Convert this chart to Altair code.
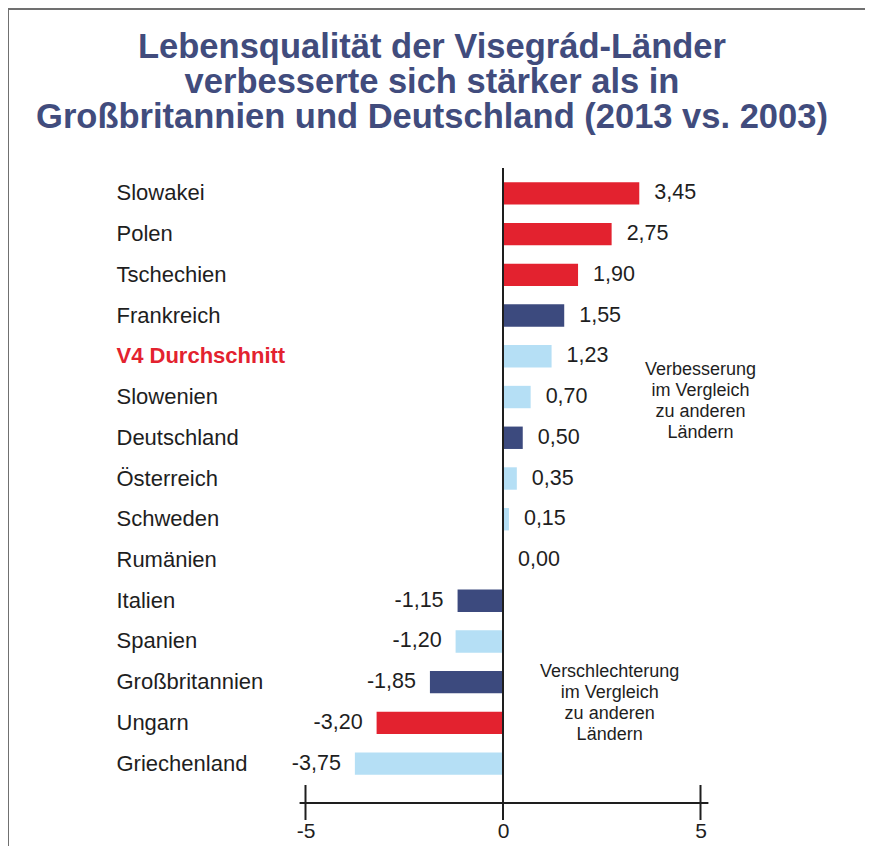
import altair as alt
import pandas as pd

# ---- data -------------------------------------------------------------
countries = ["Slowakei", "Polen", "Tschechien", "Frankreich", "V4 Durchschnitt",
             "Slowenien", "Deutschland", "Österreich", "Schweden", "Rumänien",
             "Italien", "Spanien", "Großbritannien", "Ungarn", "Griechenland"]
values = [3.45, 2.75, 1.90, 1.55, 1.23, 0.70, 0.50, 0.35, 0.15, 0.00,
          -1.15, -1.20, -1.85, -3.20, -3.75]
groups = ["V4", "V4", "V4", "Westeuropa", "Sonstige",
          "Sonstige", "Westeuropa", "Sonstige", "Sonstige", "Sonstige",
          "Westeuropa", "Sonstige", "Westeuropa", "V4", "Sonstige"]
group_domain = ["V4", "Westeuropa", "Sonstige"]
group_colors = ["#e3222f", "#3c4a7e", "#b5dff5"]
tick_values = [-5, 0, 5]

title_text = ("Lebensqualität der Visegrád-Länder\n"
              "verbesserte sich stärker als in\n"
              "Großbritannien und Deutschland (2013 vs. 2003)")
note_up = "Verbesserung\nim Vergleich\nzu anderen\nLändern"
note_down = "Verschlechterung\nim Vergleich\nzu anderen\nLändern"

labels = [f"{v:.2f}".replace(".", ",") for v in values]

df = pd.DataFrame({"land": countries, "wert": values, "gruppe": groups, "label": labels})

FONT = "Liberation Sans"
TXT = "#1e1e1e"

xscale = alt.Scale(domain=[-10, 8], nice=False, zero=False)
x_enc = alt.X("wert:Q", scale=xscale,
              axis=alt.Axis(values=tick_values, grid=False, domain=False, ticks=False,
                            orient="bottom", offset=36, labelPadding=0,
                            labelFontSize=21, labelFont=FONT, labelColor=TXT,
                            labelExpr="toString(datum.value)", title=None))
y_enc = alt.Y("land:N", sort=countries,
              scale=alt.Scale(paddingInner=0, paddingOuter=0),
              axis=alt.Axis(orient="left", labelAlign="left", labelPadding=-8,
                            ticks=False, tickSize=0, domain=False, grid=False,
                            labelFontSize=22, labelFont=FONT,
                            labelColor={"condition": {"test": "datum.value === 'V4 Durchschnitt'",
                                                      "value": "#e3222f"},
                                        "value": TXT},
                            labelFontWeight={"condition": {"test": "datum.value === 'V4 Durchschnitt'",
                                                           "value": "bold"},
                                             "value": "normal"},
                            title=None))

base = alt.Chart(df)

bars = base.mark_bar(height={"band": 0.55}).encode(
    x=x_enc,
    y=y_enc,
    color=alt.Color("gruppe:N", scale=alt.Scale(domain=group_domain, range=group_colors), legend=None),
)

pos_text = base.transform_filter("datum.wert >= 0").mark_text(
    align="left", baseline="middle", dx=15, fontSize=21.5, font=FONT, color=TXT
).encode(x=alt.X("wert:Q", scale=xscale), y=alt.Y("land:N", sort=countries), text="label:N")

neg_text = base.transform_filter("datum.wert < 0").mark_text(
    align="right", baseline="middle", dx=-14, fontSize=21.5, font=FONT, color=TXT
).encode(x=alt.X("wert:Q", scale=xscale), y=alt.Y("land:N", sort=countries), text="label:N")

zero_line = alt.Chart(pd.DataFrame({"x": [0]})).mark_rule(color=TXT, strokeWidth=2).encode(
    x=alt.X("x:Q", scale=xscale), y=alt.value(-5), y2=alt.value(647))

ticks = alt.Chart(pd.DataFrame({"t": tick_values})).mark_rule(color=TXT, strokeWidth=2).encode(
    x=alt.X("t:Q", scale=xscale), y=alt.value(612), y2=alt.value(647))

axis_line = alt.Chart(pd.DataFrame({"a": [-5.15], "b": [5.2]})).mark_rule(color=TXT, strokeWidth=2).encode(
    x=alt.X("a:Q", scale=xscale), x2="b:Q", y=alt.value(630))

notes = alt.Chart(pd.DataFrame({"x": [5.0, 2.7], "t": [note_up, note_down], "py": [197, 499]})).mark_text(
    lineBreak="\n", fontSize=18, lineHeight=21, align="center", baseline="middle", font=FONT, color=TXT
).encode(x=alt.X("x:Q", scale=xscale), y=alt.Y("py:Q", scale=None), text="t:N")

title = alt.Chart(pd.DataFrame({"t": [title_text]})).mark_text(
    lineBreak="\n", fontSize=34.5, lineHeight=35, align="center", baseline="middle",
    font=FONT, fontWeight="bold", color="#414c7d"
).encode(x=alt.value(324), y=alt.value(-125), text="t:N")

frame_top = alt.Chart(pd.DataFrame({"a": [0]})).mark_rule(color="#707070", strokeWidth=2).encode(
    x=alt.value(-100), x2=alt.value(770), y=alt.value(-164))
frame_left = alt.Chart(pd.DataFrame({"a": [0]})).mark_rule(color="#707070", strokeWidth=2).encode(
    x=alt.value(-100), y=alt.value(-164), y2=alt.value(690))

chart = alt.layer(frame_top, frame_left, title, bars, zero_line, axis_line, ticks,
                  pos_text, neg_text, notes).properties(
    width=711, height=611,
    background="white",
    autosize=alt.AutoSizeParams(type="none"),
    padding={"left": 100, "top": 165, "right": 46, "bottom": 62},
).configure_view(stroke="transparent", strokeWidth=0)

chart.save("out.html", embed_options={"renderer": "svg", "actions": False})
